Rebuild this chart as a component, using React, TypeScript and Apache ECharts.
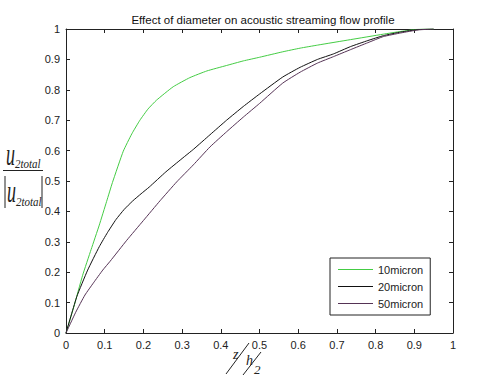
import React, { useEffect, useRef } from "react";
import * as echarts from "echarts";

const title = "Effect of diameter on acoustic streaming flow profile";
const xTicks = [0, 0.1, 0.2, 0.3, 0.4, 0.5, 0.6, 0.7, 0.8, 0.9, 1];

const names = ["10micron", "20micron", "50micron"];

const x10 = [0, 0.02, 0.043, 0.065, 0.086, 0.105, 0.12, 0.148, 0.17, 0.191, 0.212, 0.234, 0.277, 0.32, 0.364, 0.415, 0.458, 0.5, 0.56, 0.605, 0.65, 0.735, 0.82, 0.865, 0.91, 0.95];
const y10 = [0, 0.085, 0.19, 0.275, 0.355, 0.433, 0.495, 0.598, 0.655, 0.7, 0.737, 0.766, 0.81, 0.84, 0.862, 0.88, 0.895, 0.907, 0.925, 0.937, 0.947, 0.965, 0.983, 0.992, 0.999, 1];

const x20 = [0, 0.028, 0.056, 0.086, 0.107, 0.129, 0.15, 0.172, 0.194, 0.215, 0.258, 0.3, 0.33, 0.372, 0.415, 0.458, 0.5, 0.56, 0.605, 0.65, 0.691, 0.735, 0.78, 0.82, 0.865, 0.91, 0.95];
const y20 = [0, 0.12, 0.207, 0.284, 0.33, 0.373, 0.406, 0.434, 0.458, 0.48, 0.53, 0.574, 0.605, 0.652, 0.7, 0.745, 0.786, 0.842, 0.874, 0.9, 0.918, 0.942, 0.962, 0.978, 0.99, 0.998, 1];

const x50 = [0, 0.025, 0.049, 0.071, 0.095, 0.114, 0.157, 0.2, 0.243, 0.286, 0.329, 0.372, 0.415, 0.458, 0.5, 0.56, 0.605, 0.65, 0.691, 0.735, 0.78, 0.82, 0.865, 0.91, 0.95];
const y50 = [0, 0.068, 0.125, 0.165, 0.207, 0.236, 0.305, 0.37, 0.435, 0.497, 0.553, 0.612, 0.662, 0.71, 0.755, 0.822, 0.858, 0.888, 0.909, 0.932, 0.955, 0.975, 0.987, 0.997, 1];

const colors = ["#44cc44", "#111111", "#553355"];

const pairs = (xs: number[], ys: number[]) => xs.map((x, i) => [x, ys[i]]);

const serif = "'Liberation Serif', 'Times New Roman', serif";
const sans = "'Liberation Sans', Arial, sans-serif";

export default function App() {
  const ref = useRef<HTMLDivElement>(null);
  useEffect(() => {
    if (!ref.current) return;
    const chart = echarts.init(ref.current, undefined, { renderer: "svg" });
    const axisCommon = {
      type: "value" as const,
      min: 0,
      max: 1,
      interval: 0.1,
      axisLine: { show: true, onZero: false, lineStyle: { color: "#222", width: 1 } },
      axisTick: { show: true, inside: true, length: 4, lineStyle: { color: "#222" } },
      splitLine: { show: false },
    };
    const labelStyle = {
      color: "#222",
      fontSize: 11,
      fontFamily: sans,
      formatter: (v: number) => String(xTicks[Math.round(v * 10)] ?? v),
    };
    chart.setOption({
      animation: false,
      backgroundColor: "#fff",
      title: {
        text: title,
        left: 258,
        top: 9,
        textAlign: "center",
        textStyle: { fontSize: 11.5, fontWeight: "normal", color: "#111", fontFamily: sans },
      },
      grid: { left: 66, right: 47, top: 29, bottom: 42, containLabel: false },
      xAxis: [
        { ...axisCommon, position: "bottom", axisLabel: { ...labelStyle, margin: 6 } },
        { ...axisCommon, position: "top", axisLabel: { show: false } },
      ],
      yAxis: [
        { ...axisCommon, position: "left", axisLabel: { ...labelStyle, margin: 6 } },
        { ...axisCommon, position: "right", axisLabel: { show: false } },
      ],
      legend: {
        orient: "vertical",
        left: 330,
        top: 258,
        data: names,
        icon: "rect",
        borderColor: "#222",
        borderWidth: 1,
        backgroundColor: "#fff",
        padding: [5, 7, 5, 8],
        itemGap: 4,
        itemWidth: 35,
        itemHeight: 1,
        textStyle: { fontSize: 11, color: "#222", fontFamily: sans, lineHeight: 13 },
      },
      series: [
        { name: names[0], data: pairs(x10, y10) },
        { name: names[1], data: pairs(x20, y20) },
        { name: names[2], data: pairs(x50, y50) },
      ].map((s, i) => ({
        ...s,
        type: "line",
        xAxisIndex: 0,
        yAxisIndex: 0,
        symbol: "none",
        showSymbol: false,
        smooth: 0.15,
        lineStyle: { color: colors[i], width: 1 },
        itemStyle: { color: colors[i] },
      })),
      graphic: [
        // y-axis label: u_2total / |u_2total|
        { type: "text", x: 6, y: 154, scaleY: 1.8, style: { text: "u", font: `italic 18px ${serif}`, fill: "#222", verticalAlign: "middle", align: "left" } },
        { type: "text", x: 15, y: 164, scaleY: 1.2, style: { text: "2total", font: `italic 11px ${serif}`, fill: "#222", verticalAlign: "middle", align: "left" } },
        { type: "line", shape: { x1: 3, y1: 170.5, x2: 43, y2: 170.5 }, style: { stroke: "#222", lineWidth: 1 } },
        { type: "line", shape: { x1: 5, y1: 176, x2: 5, y2: 208 }, style: { stroke: "#222", lineWidth: 1 } },
        { type: "line", shape: { x1: 42, y1: 176, x2: 42, y2: 208 }, style: { stroke: "#222", lineWidth: 1 } },
        { type: "text", x: 7, y: 191, scaleY: 1.8, style: { text: "u", font: `italic 18px ${serif}`, fill: "#222", verticalAlign: "middle", align: "left" } },
        { type: "text", x: 16, y: 202, scaleY: 1.2, style: { text: "2total", font: `italic 11px ${serif}`, fill: "#222", verticalAlign: "middle", align: "left" } },
        // x-axis label: z / (h/2)
        { type: "text", x: 233, y: 354, style: { text: "z", font: `italic 14px ${serif}`, fill: "#222", verticalAlign: "middle", align: "left" } },
        { type: "line", shape: { x1: 226, y1: 374, x2: 249, y2: 343 }, style: { stroke: "#222", lineWidth: 1 } },
        { type: "text", x: 246, y: 360, style: { text: "h", font: `italic 14px ${serif}`, fill: "#222", verticalAlign: "middle", align: "left" } },
        { type: "line", shape: { x1: 243, y1: 375, x2: 261, y2: 352 }, style: { stroke: "#222", lineWidth: 1 } },
        { type: "text", x: 254, y: 369, style: { text: "2", font: `italic 13px ${serif}`, fill: "#222", verticalAlign: "middle", align: "left" } },
      ],
    });
    return () => chart.dispose();
  }, []);
  return (
    <div
      ref={ref}
      style={{ position: "fixed", left: 0, top: 0, width: 500, height: 375, background: "#fff" }}
    />
  );
}
